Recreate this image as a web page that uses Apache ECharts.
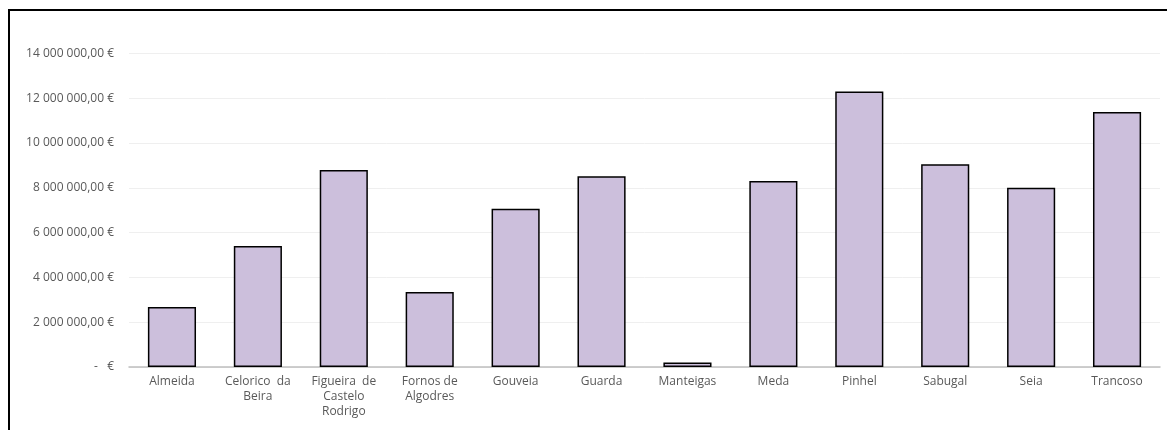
<!DOCTYPE html>
<html>
<head>
<meta charset="utf-8">
<script src="https://cdn.jsdelivr.net/npm/echarts@6/dist/echarts.min.js"></script>
<style>
  html, body { margin: 0; padding: 0; background: #ffffff; }
  #chart { width: 1167px; height: 430px; position: absolute; left: 0; top: 0; }
  #frame { position: absolute; left: 8px; top: 9px; width: 1170px; height: 440px;
           border-left: 2px solid #000; border-top: 2px solid #000; pointer-events: none; }
</style>
</head>
<body>
<div id="chart"></div>
<div id="frame"></div>
<script>
const categories = ["Almeida", "Celorico da Beira", "Figueira de Castelo Rodrigo", "Fornos de Algodres",
  "Gouveia", "Guarda", "Manteigas", "Meda", "Pinhel", "Sabugal", "Seia", "Trancoso"];
const tickLabels = ["Almeida", "Celorico  da\nBeira", "Figueira  de\nCastelo\nRodrigo", "Fornos de\nAlgodres",
  "Gouveia", "Guarda", "Manteigas", "Meda", "Pinhel", "Sabugal", "Seia", "Trancoso"];
const values = [2680000, 5400000, 8800000, 3350000, 7070000, 8520000, 200000, 8310000, 12300000, 9050000, 8010000, 11390000];
const yTicks = [0, 2000000, 4000000, 6000000, 8000000, 10000000, 12000000, 14000000];

function fmtEuro(v) {
  if (v === 0) return '-   €';
  const s = Math.round(v).toString().replace(/\B(?=(\d{3})+(?!\d))/g, ' ');
  return s + ',00 €';
}

const chart = echarts.init(document.getElementById('chart'), null, { renderer: 'canvas' });
chart.setOption({
  animation: false,
  backgroundColor: '#ffffff',
  grid: { left: 129, right: 7, top: 53.5, bottom: 63, containLabel: false },
  xAxis: {
    type: 'category',
    data: categories,
    axisLine: { lineStyle: { color: '#bfbfbf', width: 1.5 } },
    axisTick: { show: false },
    axisLabel: {
      color: '#595959', fontFamily: 'Open Sans', fontSize: 12, lineHeight: 15, margin: 7, interval: 0,
      formatter: function (v, i) { return tickLabels[i]; }
    }
  },
  yAxis: {
    type: 'value',
    min: yTicks[0], max: yTicks[yTicks.length - 1], interval: 2000000,
    axisLine: { show: false },
    axisTick: { show: false },
    splitLine: { lineStyle: { color: '#efefef', width: 1 } },
    axisLabel: { color: '#595959', fontFamily: 'Open Sans', fontSize: 12, margin: 15, formatter: fmtEuro }
  },
  series: [{
    type: 'bar',
    data: values,
    barWidth: '56%',
    itemStyle: { color: '#ccbfdc', borderColor: '#000000', borderWidth: 1.5 }
  }]
});
</script>
</body>
</html>
